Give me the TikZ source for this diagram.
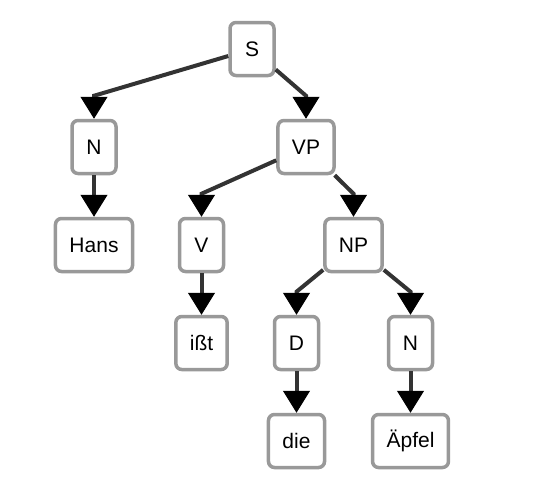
\documentclass[tikz,border=0pt]{standalone}
\usepackage{fontspec}
\setmainfont{Liberation Sans}
\usetikzlibrary{arrows.meta}
\definecolor{boxgray}{HTML}{999999}
\definecolor{edgegray}{HTML}{333333}
\begin{document}
\begin{tikzpicture}[grow=down, level distance=98pt]
 \tikzset{edge from parent/.style=
     {draw=edgegray, line width=4pt, -{Triangle[length=22pt,width=27pt,line width=1pt,color=black]},
      edge from parent path={(\tikzparentnode) -- ([yshift=23pt]\tikzchildnode.north) -- (\tikzchildnode.north)}}}
\tikzstyle{mybox} = [draw=boxgray, line width=3.5pt, fill=white, rounded corners=6pt, inner xsep=14pt, minimum width=44pt, minimum height=53pt, font=\fontsize{21}{25}\selectfont]
\tikzstyle{level 1}=[sibling distance=212pt]
\tikzstyle{level 2}=[sibling distance=152pt]
\tikzstyle{level 3}=[sibling distance=114pt]
\useasboundingbox (0,0) rectangle (548pt,-499pt);
	\node[mybox] (s) at (252pt,-49pt) {S}
	child[xshift=-52pt] { node[mybox] (n1) {N}
		child { node[mybox] (hans) {Hans} } }
	child[xshift=-52pt] { node[mybox] (vp) {VP}
		child[xshift=-28.5pt] { node[mybox] (v) {V}
			child { node[mybox] (isst) {ißt} } }
		child[xshift=-28.5pt] { node[mybox] (np) {NP}
			child { node[mybox] (d) {D}
				child { node[mybox] (die) {die} } }
			child { node[mybox] (n2) {N}
				child { node[mybox] (aepfel) {Äpfel} } } } };
\end{tikzpicture}
\end{document}
